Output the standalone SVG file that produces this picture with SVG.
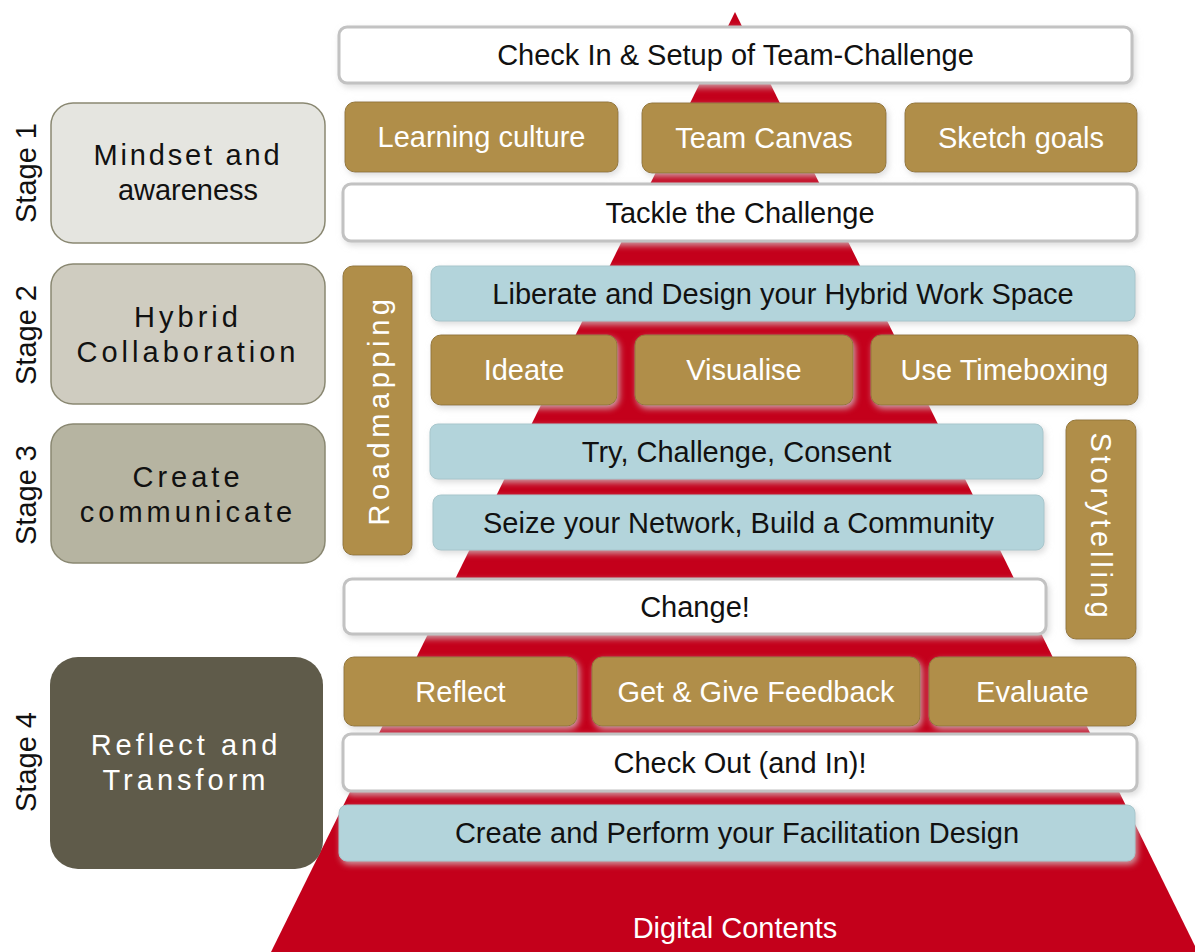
<svg xmlns="http://www.w3.org/2000/svg" width="1195" height="952" viewBox="0 0 1195 952">
  <defs>
    <filter id="soft" x="-10%" y="-30%" width="120%" height="170%">
      <feDropShadow dx="2" dy="3" stdDeviation="3" flood-color="#d0d0d0" flood-opacity="0.75"/>
    </filter>
    <style>
      text { font-family: "Liberation Sans", Arial, sans-serif; font-size: 29px; text-anchor: middle; dominant-baseline: central; }
      .white { fill: #ffffff; stroke: #c2c2c2; stroke-width: 3; filter: url(#soft); }
      .gold { fill: #b08e48; stroke: #937638; stroke-width: 1; filter: url(#soft); }
      .blue { fill: #b3d4db; stroke: #a7c6cc; stroke-width: 1; filter: url(#soft); }
      .stage { stroke: #8a8872; stroke-width: 1.5; }
      .dark { fill: #111111; }
      .light { fill: #ffffff; }
      .spaced { letter-spacing: 4px; }
      .side { font-size: 29px; fill: #111111; }
    </style>
  </defs>

  <rect width="1195" height="952" fill="#ffffff"/>

  <!-- red pyramid behind the activity bars -->
  <polygon id="pyramid" points="735,12 1198,952 271,952" fill="#c4001b"/>

  <!-- stage labels down the left edge -->
  <g id="stage-labels">
    <text class="side" transform="translate(26,173) rotate(-90)">Stage 1</text>
    <text class="side" transform="translate(26,335) rotate(-90)">Stage 2</text>
    <text class="side" transform="translate(26,495) rotate(-90)">Stage 3</text>
    <text class="side" transform="translate(26,762) rotate(-90)">Stage 4</text>
  </g>

  <!-- stage boxes -->
  <g id="stage1">
    <rect class="stage" x="51" y="103" width="274" height="140" rx="22" fill="#e5e5e0"/>
    <text class="dark" style="letter-spacing:2.8px" x="188" y="155">Mindset and</text>
    <text class="dark" x="188" y="190">awareness</text>
  </g>
  <g id="stage2">
    <rect class="stage" x="51" y="264" width="274" height="140" rx="22" fill="#cfccc0"/>
    <text class="dark spaced" x="188" y="317">Hybrid</text>
    <text class="dark spaced" x="188" y="352">Collaboration</text>
  </g>
  <g id="stage3">
    <rect class="stage" x="51" y="424" width="274" height="139" rx="22" fill="#b6b4a1"/>
    <text class="dark spaced" x="188" y="477">Create</text>
    <text class="dark spaced" x="188" y="512">communicate</text>
  </g>
  <g id="stage4">
    <rect x="50" y="657" width="273" height="212" rx="28" fill="#5f5b4a"/>
    <text class="light spaced" x="186" y="745">Reflect and</text>
    <text class="light spaced" x="186" y="780">Transform</text>
  </g>

  <!-- stage 1 bars -->
  <g id="check-in">
    <rect class="white" x="339" y="27" width="793" height="56" rx="8"/>
    <text class="dark" x="735.5" y="55">Check In &amp; Setup of Team-Challenge</text>
  </g>
  <g id="learning-culture">
    <rect class="gold" x="345" y="102" width="273" height="70" rx="10"/>
    <text class="light" x="481.5" y="137">Learning culture</text>
  </g>
  <g id="team-canvas">
    <rect class="gold" x="642" y="103" width="244" height="70" rx="10"/>
    <text class="light" x="764" y="138">Team Canvas</text>
  </g>
  <g id="sketch-goals">
    <rect class="gold" x="905" y="103" width="232" height="69" rx="10"/>
    <text class="light" x="1021" y="137.5">Sketch goals</text>
  </g>
  <g id="tackle">
    <rect class="white" x="343" y="184" width="794" height="57" rx="8"/>
    <text class="dark" x="740" y="212.5">Tackle the Challenge</text>
  </g>

  <!-- stage 2 bars -->
  <g id="roadmapping">
    <rect class="gold" x="343" y="266" width="69" height="289" rx="10"/>
    <text class="light" style="letter-spacing:4.6px" transform="translate(379,410) rotate(-90)">Roadmapping</text>
  </g>
  <g id="liberate">
    <rect class="blue" x="431" y="266" width="704" height="55" rx="8"/>
    <text class="dark" x="783" y="293.5">Liberate and Design your Hybrid Work Space</text>
  </g>
  <g id="ideate">
    <rect class="gold" x="431" y="335" width="186" height="70" rx="10"/>
    <text class="light" x="524" y="370">Ideate</text>
  </g>
  <g id="visualise">
    <rect class="gold" x="635" y="335" width="218" height="70" rx="10"/>
    <text class="light" x="744" y="370">Visualise</text>
  </g>
  <g id="timeboxing">
    <rect class="gold" x="871" y="335" width="267" height="70" rx="10"/>
    <text class="light" x="1004.5" y="370">Use Timeboxing</text>
  </g>

  <!-- stage 3 bars -->
  <g id="try-challenge">
    <rect class="blue" x="430" y="424" width="613" height="55" rx="8"/>
    <text class="dark" x="736.5" y="451.5">Try, Challenge, Consent</text>
  </g>
  <g id="network">
    <rect class="blue" x="433" y="495" width="611" height="55" rx="8"/>
    <text class="dark" x="738.5" y="522.5">Seize your Network, Build a Community</text>
  </g>
  <g id="storytelling">
    <rect class="gold" x="1066" y="420" width="70" height="219" rx="10"/>
    <text class="light" style="letter-spacing:3.8px" transform="translate(1101,527) rotate(90)">Storytelling</text>
  </g>
  <g id="change">
    <rect class="white" x="344" y="579" width="702" height="55" rx="8"/>
    <text class="dark" x="695" y="606.5">Change!</text>
  </g>

  <!-- stage 4 bars -->
  <g id="reflect">
    <rect class="gold" x="344" y="657" width="233" height="69" rx="10"/>
    <text class="light" x="460.5" y="691.5">Reflect</text>
  </g>
  <g id="feedback">
    <rect class="gold" x="592" y="657" width="328" height="69" rx="10"/>
    <text class="light" x="756" y="691.5">Get &amp; Give Feedback</text>
  </g>
  <g id="evaluate">
    <rect class="gold" x="929" y="657" width="207" height="69" rx="10"/>
    <text class="light" x="1032.5" y="691.5">Evaluate</text>
  </g>
  <g id="check-out">
    <rect class="white" x="343" y="734" width="794" height="57" rx="8"/>
    <text class="dark" x="740" y="762.5">Check Out (and In)!</text>
  </g>
  <g id="facilitation">
    <rect class="blue" x="339" y="805" width="796" height="56" rx="8"/>
    <text class="dark" x="737" y="833">Create and Perform your Facilitation Design</text>
  </g>

  <text id="digital-contents" class="light" x="735" y="928">Digital Contents</text>

  <!-- no connectors in this layout -->
  <g id="connectors"/>
</svg>
